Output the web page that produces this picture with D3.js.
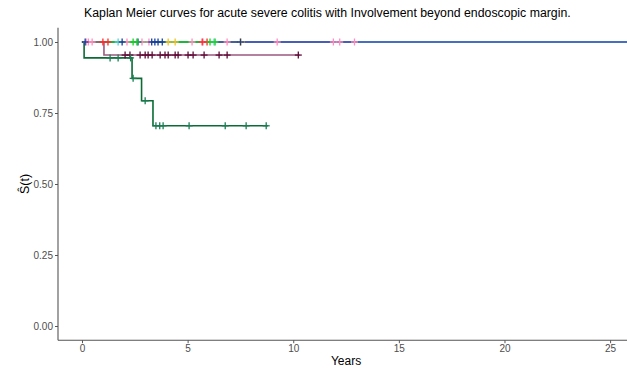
<!DOCTYPE html>
<html>
<head>
<meta charset="utf-8">
<script src="https://cdn.jsdelivr.net/npm/d3@7"></script>
<style>
  html, body { margin: 0; padding: 0; background: #fff; }
  svg { display: block; font-family: "Liberation Sans", Arial, sans-serif; }
</style>
</head>
<body>
<svg id="chart" width="627" height="368"></svg>
<script>
// Kaplan-Meier strata: step times, survival after each step, end of follow-up, censor times
const xTicks = [0, 5, 10, 15, 20, 25];
const yTicks = [0, 0.25, 0.5, 0.75, 1];

const darkGreenTimes = [0, 0.1, 2.37, 2.82, 3.36];
const darkGreenSurv = [1, 0.944, 0.872, 0.793, 0.705];
const darkGreenEnd = 8.8;
const darkGreenCensor = [1.33, 1.71, 2.3, 2.42, 2.99, 3.5, 3.68, 3.84, 5.07, 6.78, 7.77, 8.72];

const maroonTimes = [0, 1.04];
const maroonSurv = [1, 0.954];
const maroonEnd = 10.3;
const maroonCensor = [2.04, 2.27, 2.75, 2.99, 3.13, 3.32, 3.7, 3.93, 4.08, 4.41, 4.55, 5.02, 5.26, 5.78, 6.49, 6.87, 10.24];

const pinkEnd = 12.9;
const pinkCensor = [0.2, 0.3, 0.48, 2.13, 2.84, 3.17, 5.21, 5.73, 6.87, 9.24, 11.9, 12.2, 12.9];
const redEnd = 6.0;
const redCensor = [0.99, 1.23, 5.69, 5.92];
const cyanEnd = 6.2;
const cyanCensor = [1.71, 6.25];
const yellowEnd = 7.5;
const yellowCensor = [4.08, 4.41, 7.53];
const blueEnd = 26.5;
const blueCensor = [0.15, 1.9, 2.65, 3.3, 3.45, 3.6, 3.8, 7.5];
const greenEnd = 6.35;
const greenCensor = [2.42, 2.6, 6.06, 6.3];

const series = [
  { times: [0], surv: [1], end: pinkEnd, censor: pinkCensor, line: "#ff9ec8", mark: "#ff8fbf" },
  { times: [0], surv: [1], end: redEnd, censor: redCensor, line: "#ff3b3b", mark: "#ff2a2a" },
  { times: [0], surv: [1], end: cyanEnd, censor: cyanCensor, line: "#5fd3d3", mark: "#5fcfd8" },
  { times: [0], surv: [1], end: yellowEnd, censor: yellowCensor, line: "#f5c542", mark: "#f2c030" },
  { times: [0], surv: [1], end: blueEnd, censor: blueCensor, line: "#0b3fa8", mark: "#1a3d9c" },
  { times: [0], surv: [1], end: greenEnd, censor: greenCensor, line: "#12d41e", mark: "#1ccf2a" },
  { times: maroonTimes, surv: maroonSurv, end: maroonEnd, censor: maroonCensor, line: "#9c5a80", mark: "#5e0a36" },
  { times: darkGreenTimes, surv: darkGreenSurv, end: darkGreenEnd, censor: darkGreenCensor, line: "#0a6b36", mark: "#1b7d52" }
];

const svg = d3.select("#chart");
const panelLeft = 58, panelRight = 627, panelTop = 27.8, panelBottom = 340.2;

const x = d3.scaleLinear().domain([-1.136, 25.8]).range([panelLeft, panelRight]);
const y = d3.scaleLinear().domain([-0.05, 1.05]).range([panelBottom, panelTop]);

// survival value at time t for a step function
function survAt(s, t) {
  let v = s.surv[0];
  for (let i = 0; i < s.times.length; i++) if (s.times[i] <= t) v = s.surv[i];
  return v;
}

svg.append("clipPath").attr("id", "panel")
  .append("rect").attr("x", panelLeft).attr("y", 0)
  .attr("width", panelRight - panelLeft).attr("height", panelBottom);

const plot = svg.append("g");

const line = d3.line().x(d => x(d[0])).y(d => y(d[1])).curve(d3.curveStepAfter);

series.forEach(s => {
  const pts = s.times.map((t, i) => [t, s.surv[i]]);
  pts.push([s.end, s.surv[s.surv.length - 1]]);
  plot.append("path")
    .attr("clip-path", "url(#panel)")
    .attr("d", line(pts))
    .attr("fill", "none")
    .attr("stroke", s.line)
    .attr("stroke-width", 1.6);
});

series.forEach(s => {
  s.censor.forEach(t => {
    const cx = x(t), cy = y(survAt(s, t));
    const g = plot.append("g").attr("stroke", s.mark).attr("stroke-width", 1.3);
    g.append("line").attr("x1", cx - 3.5).attr("x2", cx + 3.5).attr("y1", cy).attr("y2", cy);
    g.append("line").attr("x1", cx).attr("x2", cx).attr("y1", cy - 3.5).attr("y2", cy + 3.5);
  });
});

// axes
const axisColor = "#555";
const xAxis = svg.append("g").attr("transform", `translate(0,${panelBottom})`)
  .call(d3.axisBottom(x).tickValues(xTicks).tickSize(3).tickPadding(2).tickFormat(d3.format("d")));
const yAxis = svg.append("g").attr("transform", `translate(${panelLeft},0)`)
  .call(d3.axisLeft(y).tickValues(yTicks).tickSize(3).tickPadding(2).tickFormat(d3.format(".2f")));

[xAxis, yAxis].forEach(a => {
  a.select(".domain").remove();
  a.selectAll(".tick line").attr("stroke", axisColor);
  a.selectAll(".tick text").attr("fill", "#4d4d4d").style("font-size", "10px")
    .style("font-family", "'Liberation Sans', Arial, sans-serif");
});

svg.append("line").attr("x1", panelLeft).attr("x2", panelLeft).attr("y1", panelTop).attr("y2", panelBottom)
  .attr("stroke", axisColor).attr("stroke-width", 1.1);
svg.append("line").attr("x1", panelLeft).attr("x2", panelRight).attr("y1", panelBottom).attr("y2", panelBottom)
  .attr("stroke", axisColor).attr("stroke-width", 1.1);

// titles
svg.append("text").attr("x", 84).attr("y", 17)
  .style("font-size", "12.3px").attr("fill", "#000")
  .text("Kaplan Meier curves for acute severe colitis with Involvement beyond endoscopic margin.");

svg.append("text").attr("x", x(12.5)).attr("y", 365).attr("text-anchor", "middle")
  .style("font-size", "12px").attr("fill", "#000").text("Years");

svg.append("text")
  .attr("transform", `translate(29,${y(0.5)}) rotate(-90)`)
  .attr("text-anchor", "middle")
  .style("font-size", "12.5px").attr("fill", "#000").text("Ŝ(t)");
</script>
</body>
</html>
